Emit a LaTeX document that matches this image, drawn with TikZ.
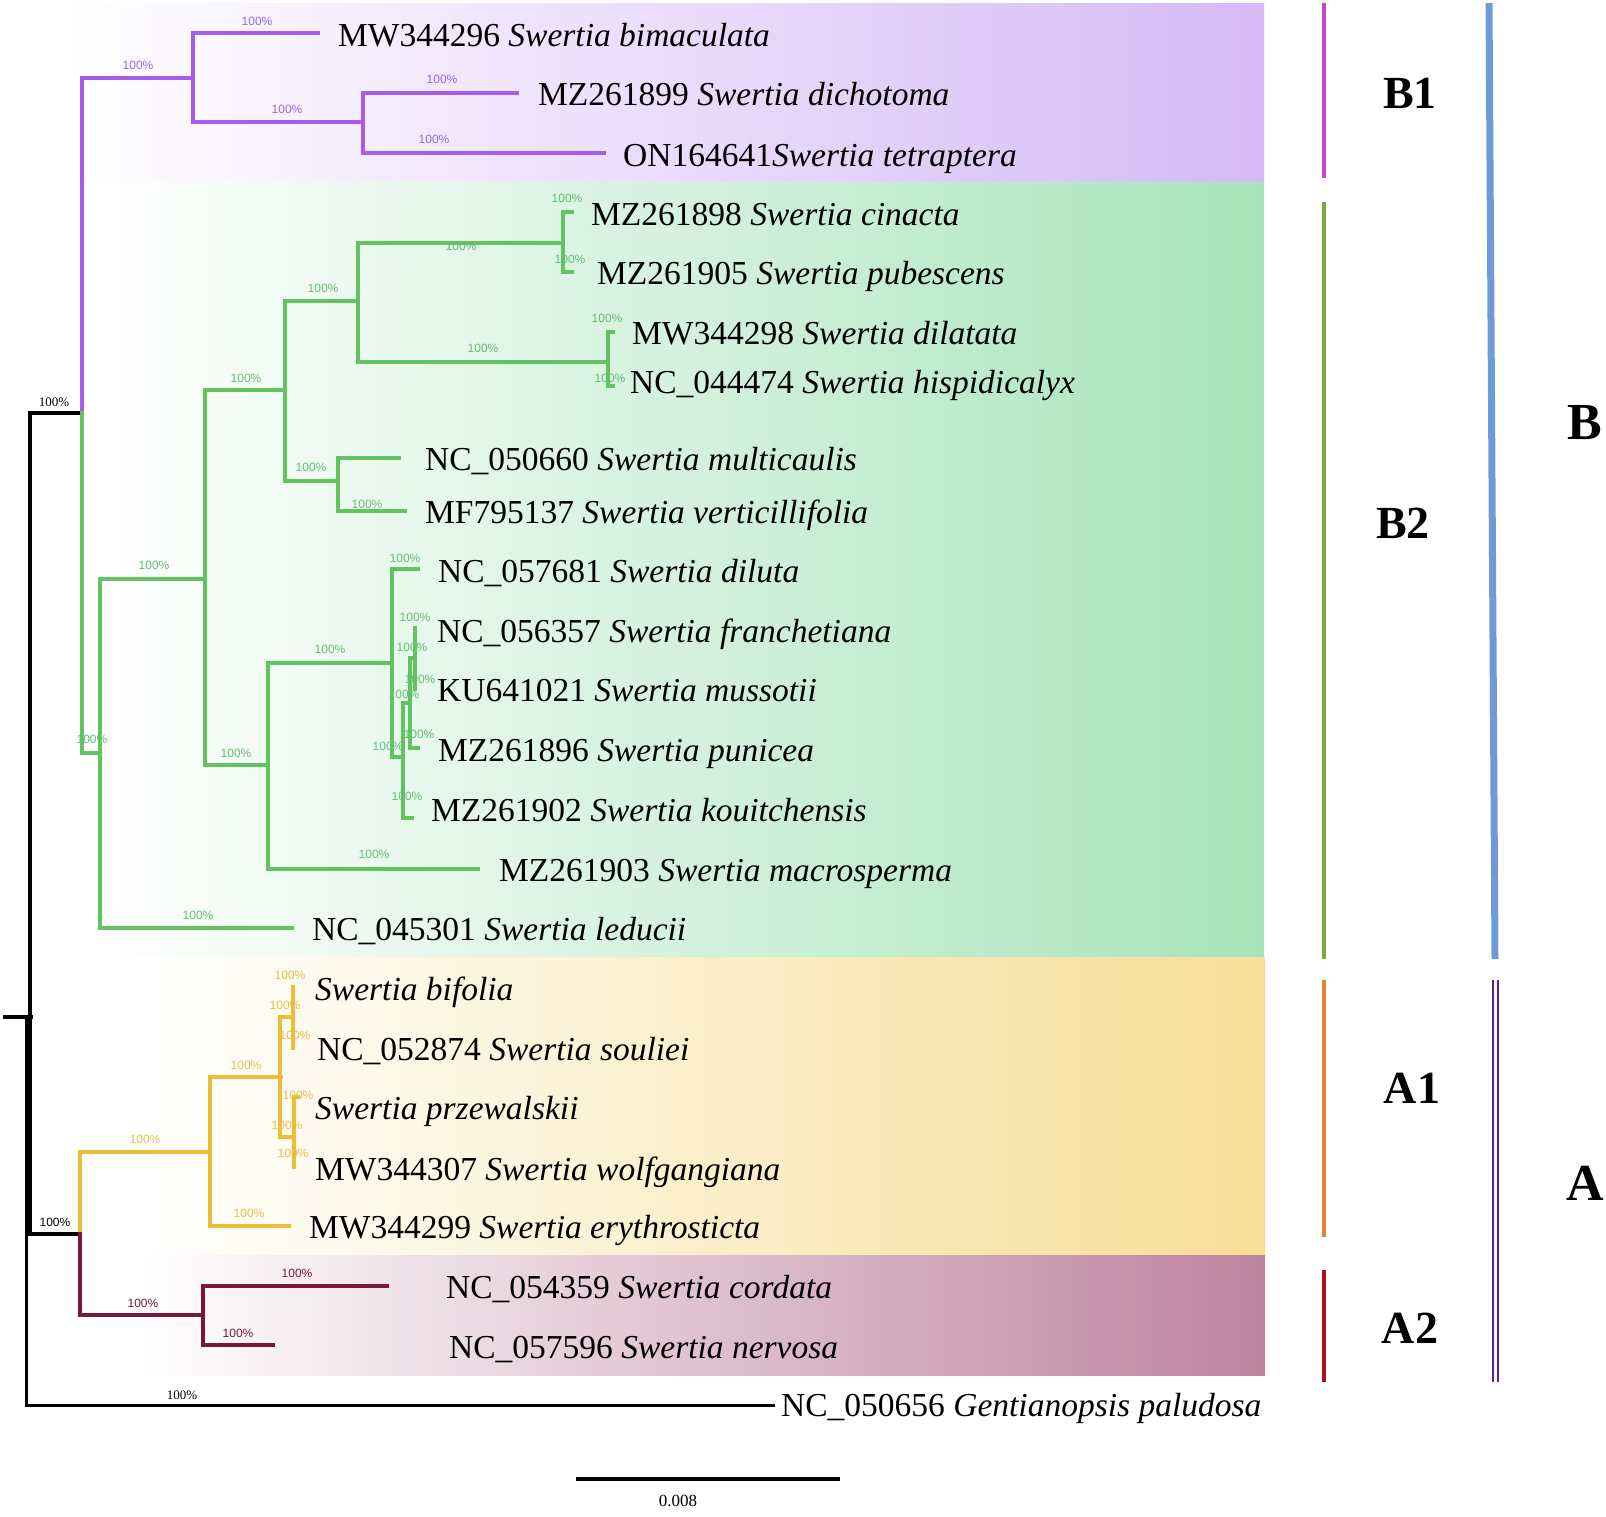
\documentclass[tikz,border=0pt]{standalone}
\usepackage{fontspec}
\setmainfont{Liberation Serif}
\newfontfamily\supfont{Liberation Sans}
\definecolor{pur}{RGB}{168,92,238}
\definecolor{purl}{RGB}{150,105,225}
\definecolor{grn}{RGB}{98,196,96}
\definecolor{grnl}{RGB}{100,190,115}
\definecolor{yel}{RGB}{236,190,56}
\definecolor{yell}{RGB}{232,192,70}
\definecolor{mar}{RGB}{125,22,58}
\definecolor{bgB1}{RGB}{214,186,246}
\definecolor{bgB2}{RGB}{168,228,186}
\definecolor{bgA1}{RGB}{246,222,150}
\definecolor{bgA2}{RGB}{190,132,158}
\definecolor{barB1}{RGB}{200,70,200}
\definecolor{barB2}{RGB}{120,170,60}
\definecolor{barA1}{RGB}{230,130,50}
\definecolor{barA2}{RGB}{170,20,30}
\definecolor{barB}{RGB}{110,155,215}
\definecolor{barA}{RGB}{90,30,160}
\tikzset{
  br/.style={line width=4pt, line cap=rect},
  leaf/.style={anchor=base west, inner sep=0pt, font=\fontsize{33.5}{40}\selectfont},
  sup/.style={inner sep=0pt, font=\supfont\fontsize{12}{14}\selectfont},
  supb/.style={inner sep=0pt, font=\fontsize{13}{15}\selectfont},
  clade/.style={inner sep=0pt, font=\bfseries\fontsize{46}{50}\selectfont},
  bigclade/.style={inner sep=0pt, font=\bfseries\fontsize{52}{56}\selectfont},
  bar/.style={line width=3.5pt}
}
\begin{document}
\begin{tikzpicture}[x=1pt,y=-1pt]
\useasboundingbox (0,0) rectangle (1606,1516);
% backgrounds
\shade[left color=white, right color=bgB1] (60,3) rectangle (1264,182);
\shade[left color=white, right color=bgB2] (100,182) rectangle (1264,957);
\shade[left color=white, right color=bgA1] (140,957) rectangle (1265,1255);
\shade[left color=white, right color=bgA2] (140,1255) rectangle (1265,1375);
% black backbone
\draw[br, black] (5,1017) -- (31,1017);
\draw[line width=3pt, black] (26,1017) -- (26,1405) -- (775,1405);
\draw[br, black] (30,413) -- (30,1234);
\draw[br, black] (30,413) -- (82,413);
\draw[br, black] (30,1234) -- (80,1234);
% B1 purple
\draw[br, pur] (82,413) -- (82,78) -- (193,78);
\draw[br, pur] (318,33) -- (193,33) -- (193,122) -- (363,122);
\draw[br, pur] (517,93) -- (363,93) -- (363,153) -- (604,153);
% B2 green
\draw[br, grn] (82,413) -- (82,753) -- (100,753);
\draw[br, grn] (205,579) -- (100,579) -- (100,928) -- (292,928);
\draw[br, grn] (285,390) -- (205,390) -- (205,765) -- (268,765);
\draw[br, grn] (358,301) -- (285,301) -- (285,481) -- (338,481);
\draw[br, grn] (563,243) -- (358,243) -- (358,362) -- (608,362);
\draw[br, grn] (572,212) -- (563,212) -- (563,272) -- (572,272);
\draw[br, grn] (613,332) -- (608,332) -- (608,386) -- (613,386);
\draw[br, grn] (399,458) -- (338,458) -- (338,511) -- (405,511);
\draw[br, grn] (392,663) -- (268,663) -- (268,869) -- (478,869);
\draw[br, grn] (418,569) -- (392,569) -- (392,757) -- (403,757);
\draw[br, grn] (410,703) -- (403,703) -- (403,818) -- (412,818);
\draw[br, grn] (415,658) -- (410,658) -- (410,748) -- (418,748);
\draw[br, grn] (415,628) -- (415,689);
% A1 yellow
\draw[br, yel] (80,1234) -- (80,1152) -- (210,1152);
\draw[br, yel] (281,1077) -- (210,1077) -- (210,1226) -- (289,1226);
\draw[br, yel] (293,1017) -- (280,1017) -- (280,1137) -- (294,1137);
\draw[br, yel] (293,987) -- (293,1048);
\draw[br, yel] (298,1097) -- (294,1097) -- (294,1167);
% A2 maroon
\draw[br, mar] (80,1234) -- (80,1315) -- (203,1315);
\draw[br, mar] (387,1286) -- (203,1286) -- (203,1345) -- (273,1345);
% leaf labels
\node[leaf] (l1) at (338,46) {MW344296 \textit{Swertia bimaculata}};
\node[leaf] (l2) at (538,105) {MZ261899 \textit{Swertia dichotoma}};
\node[leaf] (l3) at (623,166) {ON164641\textit{Swertia tetraptera}};
\node[leaf] (l4) at (591,225) {MZ261898 \textit{Swertia cinacta}};
\node[leaf] (l5) at (597,284) {MZ261905 \textit{Swertia pubescens}};
\node[leaf] (l6) at (632,344) {MW344298 \textit{Swertia dilatata}};
\node[leaf] (l7) at (630,393) {NC\_044474 \textit{Swertia hispidicalyx}};
\node[leaf] (l8) at (425,470) {NC\_050660 \textit{Swertia multicaulis}};
\node[leaf] (l9) at (425,523) {MF795137 \textit{Swertia verticillifolia}};
\node[leaf] (l10) at (438,582) {NC\_057681 \textit{Swertia diluta}};
\node[leaf] (l11) at (437,642) {NC\_056357 \textit{Swertia franchetiana}};
\node[leaf] (l12) at (437,701) {KU641021 \textit{Swertia mussotii}};
\node[leaf] (l13) at (438,761) {MZ261896 \textit{Swertia punicea}};
\node[leaf] (l14) at (431,821) {MZ261902 \textit{Swertia kouitchensis}};
\node[leaf] (l15) at (499,881) {MZ261903 \textit{Swertia macrosperma}};
\node[leaf] (l16) at (312,940) {NC\_045301 \textit{Swertia leducii}};
\node[leaf] (l17) at (315,1000) {\textit{Swertia bifolia}};
\node[leaf] (l18) at (317,1060) {NC\_052874 \textit{Swertia souliei}};
\node[leaf] (l19) at (315,1119) {\textit{Swertia przewalskii}};
\node[leaf] (l20) at (315,1180) {MW344307 \textit{Swertia wolfgangiana}};
\node[leaf] (l21) at (309,1238) {MW344299 \textit{Swertia erythrosticta}};
\node[leaf] (l22) at (446,1298) {NC\_054359 \textit{Swertia cordata}};
\node[leaf] (l23) at (449,1358) {NC\_057596 \textit{Swertia nervosa}};
\node[leaf] (l24) at (781,1416) {NC\_050656 \textit{Gentianopsis paludosa}};
% support values
\node[supb] (s1) at (54,402) {100\%};
\node[sup, black] (s2) at (55,1222) {100\%};
\node[supb] (s3) at (182,1395) {100\%};
\node[sup, purl] (s4) at (257,21) {100\%};
\node[sup, purl] (s5) at (138,65) {100\%};
\node[sup, purl] (s6) at (287,109) {100\%};
\node[sup, purl] (s7) at (442,79) {100\%};
\node[sup, purl] (s8) at (434,139) {100\%};
\node[sup, grnl] (g1) at (154,565) {100\%};
\node[sup, grnl] (g2) at (198,915) {100\%};
\node[sup, grnl] (g3) at (92,739) {100\%};
\node[sup, grnl] (g4) at (246,378) {100\%};
\node[sup, grnl] (g5) at (236,753) {100\%};
\node[sup, grnl] (g6) at (323,288) {100\%};
\node[sup, grnl] (g7) at (311,467) {100\%};
\node[sup, grnl] (g8) at (367,504) {100\%};
\node[sup, grnl] (g9) at (461,246) {100\%};
\node[sup, grnl] (g10) at (567,198) {100\%};
\node[sup, grnl] (g11) at (570,259) {100\%};
\node[sup, grnl] (g12) at (607,318) {100\%};
\node[sup, grnl] (g13) at (610,378) {100\%};
\node[sup, grnl] (g14) at (483,348) {100\%};
\node[sup, grnl] (g15) at (330,649) {100\%};
\node[sup, grnl] (g16) at (374,854) {100\%};
\node[sup, grnl] (g17) at (405,558) {100\%};
\node[sup, grnl] (g18) at (415,617) {100\%};
\node[sup, grnl] (g19) at (412,647) {100\%};
\node[sup, grnl] (g20) at (420,679) {100\%};
\node[sup, grnl] (g21) at (404,694) {100\%};
\node[sup, grnl] (g22) at (419,734) {100\%};
\node[sup, grnl] (g23) at (388,746) {100\%};
\node[sup, grnl] (g24) at (407,796) {100\%};
\node[sup, yell] (y1) at (145,1139) {100\%};
\node[sup, yell] (y2) at (249,1213) {100\%};
\node[sup, yell] (y3) at (246,1065) {100\%};
\node[sup, yell] (y4) at (290,975) {100\%};
\node[sup, yell] (y5) at (285,1005) {100\%};
\node[sup, yell] (y6) at (295,1035) {100\%};
\node[sup, yell] (y7) at (298,1095) {100\%};
\node[sup, yell] (y8) at (287,1125) {100\%};
\node[sup, yell] (y9) at (293,1153) {100\%};
\node[sup, mar] (m1) at (143,1303) {100\%};
\node[sup, mar] (m2) at (297,1273) {100\%};
\node[sup, mar] (m3) at (238,1333) {100\%};
% clade bars
\coordinate (b1t) at (1324,3);   \coordinate (b1b) at (1324,178);
\coordinate (b2t) at (1324,202); \coordinate (b2b) at (1324,959);
\coordinate (a1t) at (1324,980); \coordinate (a1b) at (1324,1237);
\coordinate (a2t) at (1324,1270);\coordinate (a2b) at (1324,1382);
\coordinate (bt) at (1489,3);    \coordinate (bb) at (1495,959);
\draw[bar, barB1] (b1t) -- (b1b);
\draw[bar, barB2] (b2t) -- (b2b);
\draw[bar, barA1] (a1t) -- (a1b);
\draw[bar, barA2] (a2t) -- (a2b);
\draw[line width=7pt, barB] (bt) -- (bb);
\draw[line width=2pt, barA] (1493,980) -- (1493,1382);
\draw[line width=2pt, barA] (1498,980) -- (1498,1382);
% clade labels
\node[clade] (cB1) at (1410,93) {B1};
\node[clade] (cB2) at (1403,523) {B2};
\node[clade] (cA1) at (1412,1088) {A1};
\node[clade] (cA2) at (1410,1328) {A2};
\node[bigclade] (cB) at (1585,423) {B};
\node[bigclade] (cA) at (1585,1183) {A};
% scale bar
\coordinate (sbl) at (576,1479);
\coordinate (sbr) at (840,1479);
\draw[line width=3.5pt] (sbl) -- (sbr);
\node[inner sep=0pt, font=\fontsize{17}{20}\selectfont] (sbt) at (678,1501) {0.008};
\end{tikzpicture}
\end{document}
